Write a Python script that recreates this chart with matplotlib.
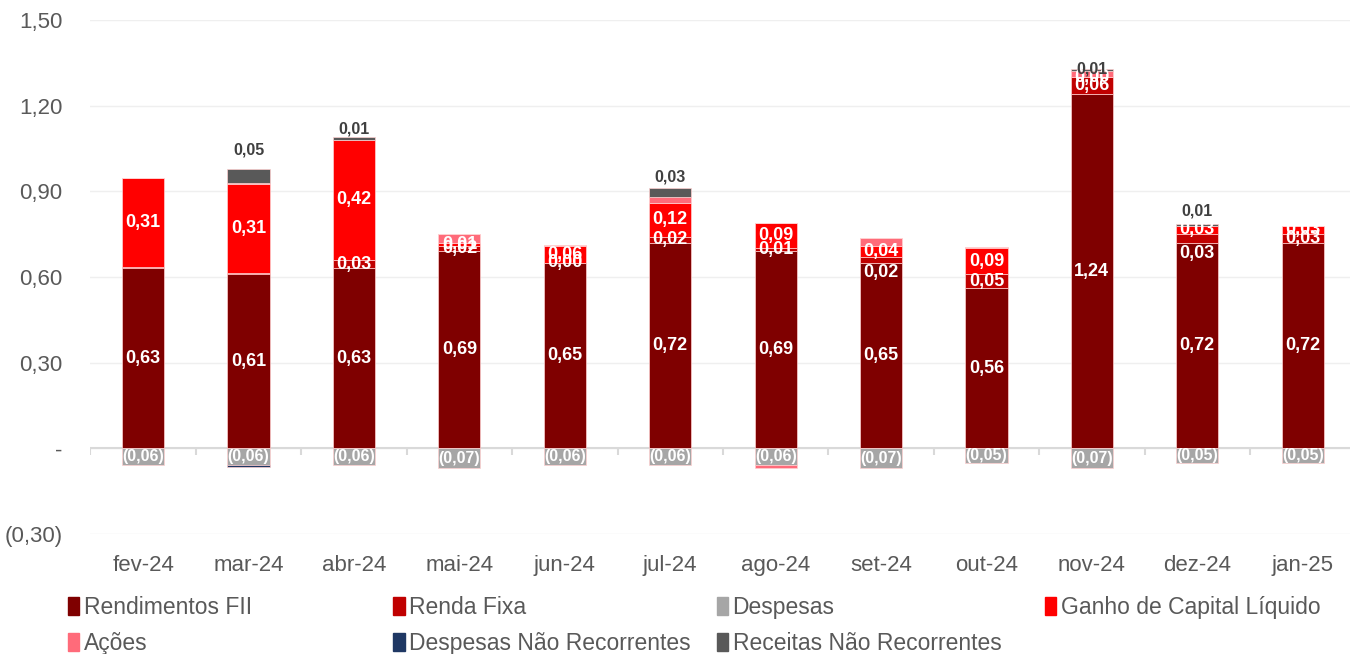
import numpy as np
import matplotlib
matplotlib.use('Agg')
import matplotlib.pyplot as plt
from matplotlib.patches import Patch
from matplotlib.ticker import FuncFormatter

plt.rcParams['font.family'] = ['Liberation Sans', 'DejaVu Sans']

meses = ['fev-24', 'mar-24', 'abr-24', 'mai-24', 'jun-24', 'jul-24',
         'ago-24', 'set-24', 'out-24', 'nov-24', 'dez-24', 'jan-25']

rend_fii = [0.63, 0.61, 0.63, 0.69, 0.65, 0.72, 0.69, 0.65, 0.56, 1.24, 0.72, 0.72]
renda_fixa = [0.005, 0.005, 0.03, 0.02, 0.00, 0.02, 0.01, 0.02, 0.05, 0.06, 0.03, 0.03]
despesas = [-0.06, -0.06, -0.06, -0.07, -0.06, -0.06, -0.06, -0.07, -0.05, -0.07, -0.05, -0.05]
ganho = [0.31, 0.31, 0.42, 0.01, 0.06, 0.12, 0.09, 0.04, 0.09, 0.00, 0.03, 0.03]
acoes = [0.002, 0.003, 0.0, 0.03, 0.003, 0.02, -0.008, 0.025, 0.005, 0.02, 0.0, 0.0]
desp_nr = [0, -0.005, 0, 0, 0, 0, 0, 0, 0, 0, 0, 0]
rec_nr = [0, 0.05, 0.01, 0, 0, 0.03, 0, 0, 0, 0.01, 0.005, 0]

# quais rotulos aparecem no grafico original (e deslocamentos manuais)
show_rf = [False, False] + [True] * 10
rf_off = [0, 0, 0, 0, 0, 0, 0, -9, 0, 0, -11, 0]
show_rec = [False, True, True, False, False, True, False, False, False, True, True, False]
rec_off = [0, 13.5, 6, 0, 0, 8.5, 0, 0, 0, 0, 9.5, 0]

cores = {
    'Rendimentos FII': '#7F0000',
    'Renda Fixa': '#C00000',
    'Despesas': '#A6A6A6',
    'Ganho de Capital Líquido': '#FF0000',
    'Ações': '#FF6B7A',
    'Despesas Não Recorrentes': '#1F3864',
    'Receitas Não Recorrentes': '#595959',
}

def fmt(v):
    s = f"{abs(v):.2f}".replace('.', ',')
    return f"({s})" if v < -0.0001 else s

fig = plt.figure(figsize=(13.5, 6.54), dpi=100)
ax = fig.add_axes([0.067, 0.1835, 0.937, 0.7859])

x = np.arange(len(meses))
w = 0.40
pos = np.zeros(len(meses))
neg = np.zeros(len(meses))

series = [('Rendimentos FII', rend_fii), ('Renda Fixa', renda_fixa),
          ('Despesas', despesas), ('Ganho de Capital Líquido', ganho),
          ('Ações', acoes), ('Despesas Não Recorrentes', desp_nr),
          ('Receitas Não Recorrentes', rec_nr)]

bottoms = {}
for nome, vals in series:
    vals = np.array(vals)
    b = np.where(vals >= 0, pos, neg)
    ax.bar(x, vals, w, bottom=b, color=cores[nome], edgecolor='#FFD0D0',
           linewidth=0.5, zorder=3)
    bottoms[nome] = b.copy()
    pos = pos + np.where(vals >= 0, vals, 0)
    neg = neg + np.where(vals < 0, vals, 0)

lab = dict(ha='center', va='center', color='white', fontweight='bold',
           fontsize=13, zorder=5)
for i in range(len(meses)):
    ax.text(x[i], rend_fii[i] / 2, fmt(rend_fii[i]), **lab)
    if show_rf[i]:
        ax.annotate(fmt(renda_fixa[i]), (x[i], bottoms['Renda Fixa'][i] + renda_fixa[i] / 2),
                    xytext=(0, rf_off[i]), textcoords='offset points', **lab)
    ax.text(x[i], bottoms['Ganho de Capital Líquido'][i] + ganho[i] / 2, fmt(ganho[i]), **lab)
    ax.text(x[i], despesas[i] / 2, fmt(despesas[i]), ha='center', va='center',
            color='white', fontweight='bold', fontsize=11.5, zorder=5)
    if show_rec[i]:
        top = bottoms['Receitas Não Recorrentes'][i] + rec_nr[i]
        ax.annotate(fmt(rec_nr[i]), (x[i], top), xytext=(0, rec_off[i]),
                    textcoords='offset points', ha='center', va='center',
                    color='#404040', fontweight='bold', fontsize=11.5, zorder=5)

ax.set_ylim(-0.30, 1.50)
ax.set_xlim(-0.5, len(meses) - 0.5)
ax.set_yticks(np.arange(-0.30, 1.51, 0.30))

def yfmt(v, p):
    if abs(v) < 1e-9:
        return '-'
    return fmt(v)

ax.yaxis.set_major_formatter(FuncFormatter(yfmt))
ax.grid(axis='y', color='#EFEFEF', linewidth=1, zorder=0)
ax.axhline(0, color='#D9D9D9', linewidth=1.5, zorder=2)
ax.vlines(np.arange(len(meses) + 1) - 0.5, -0.025, 0, color='#D9D9D9', linewidth=1.5, zorder=2)

ax.set_xticks(x)
ax.set_xticklabels(meses)
ax.tick_params(axis='both', length=0, labelsize=16, labelcolor='#595959')
ax.tick_params(axis='x', pad=15)
ax.tick_params(axis='y', pad=20)
for s in ax.spines.values():
    s.set_visible(False)

# legenda em 4 colunas igualmente espacadas
colunas = [['Rendimentos FII', 'Ações'],
           ['Renda Fixa', 'Despesas Não Recorrentes'],
           ['Despesas', 'Receitas Não Recorrentes'],
           ['Ganho de Capital Líquido']]
xs = [0.0435, 0.2845, 0.524, 0.767]
for cx, col in zip(xs, colunas):
    hs = [Patch(color=cores[n]) for n in col]
    fig.legend(hs, col, loc='upper left', bbox_to_anchor=(cx, 0.103),
               frameon=False, handlelength=0.5, handleheight=0.85,
               handletextpad=0.2, labelspacing=0.57, borderaxespad=0,
               prop={'size': 16.5}, labelcolor='#595959')

fig.savefig('out.png', dpi=100)
